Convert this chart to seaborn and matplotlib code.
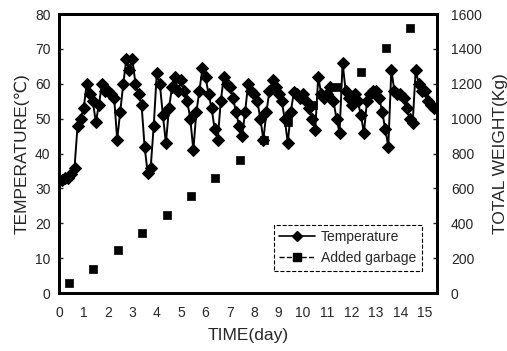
import matplotlib
matplotlib.use("Agg")
import matplotlib.pyplot as plt
from matplotlib.lines import Line2D
import seaborn as sns
import pandas as pd

# Temperature readings, every 3 hours (8 per day)
temperature = [
    32, 32.5, 33, 33, 34, 36, 48, 50,          # day 0
    53, 60, 57, 55, 49, 54, 60, 58,            # day 1
    58, 57, 56, 44, 52, 60, 67, 64,            # day 2
    67, 60, 57, 54, 42, 34.5, 36, 48,          # day 3
    63, 60, 51, 43, 53, 59, 62, 58,            # day 4
    61, 58, 55, 50, 41, 52, 58, 64.5,          # day 5
    62, 57, 53, 47, 44, 55, 62, 60,            # day 6
    59, 56, 52, 48, 45, 52, 60, 58,            # day 7
    57, 55, 50, 44, 52, 58, 61, 59,            # day 8
    57, 55, 50, 43, 52, 57.6, 57, 56,          # day 9
    57, 55, 53, 50, 46.7, 62, 57, 56,          # day 10
    57, 59, 55, 50, 46, 66, 58, 56,            # day 11
    54, 57, 55, 51, 46, 55, 57, 58,            # day 12
    58, 56, 52, 47, 42, 64, 58, 57,            # day 13
    57, 56, 53, 50, 48.7, 64, 60, 58,          # day 14
    58, 55, 54, 53,                            # day 15
]
sample_interval_day = 0.125
temp_time = [i * sample_interval_day for i in range(len(temperature))]

garbage_day = [0.4, 1.4, 2.4, 3.4, 4.4, 5.4, 6.4, 7.4, 8.4, 9.4, 10.4, 11.4, 12.4, 13.4, 14.4]
garbage_total = [60, 140, 245, 345, 450, 555, 660, 765, 875, 980, 1080, 1180, 1270, 1405, 1520]

x_ticks = list(range(0, 16))
left_ticks = list(range(0, 81, 10))
right_ticks = list(range(0, 1601, 200))

df_t = pd.DataFrame({"day": temp_time, "temp": temperature})
df_g = pd.DataFrame({"day": garbage_day, "weight": garbage_total})

sns.set_style("white")
plt.rcParams['font.family'] = ['Liberation Sans', 'DejaVu Sans']

fig = plt.figure(figsize=(5.07, 3.51), dpi=100)
ax = fig.add_axes([0.116, 0.165, 0.746, 0.795])
ax2 = ax.twinx()

sns.lineplot(data=df_t, x="day", y="temp", ax=ax, color="black", lw=1.4,
             marker="D", markersize=6, markeredgecolor="black", markerfacecolor="black",
             legend=False)
sns.scatterplot(data=df_g, x="day", y="weight", ax=ax2, color="black", marker="s",
                s=40, edgecolor="black", legend=False)

ax.set_xlim(-0.02, 15.5)
ax.set_ylim(0, 80)
ax2.set_ylim(0, 1600)
ax.set_xticks(x_ticks)
ax.set_yticks(left_ticks)
ax2.set_yticks(right_ticks)

ax.set_xlabel("TIME(day)", fontsize=12.5, labelpad=6)
ax.set_ylabel("TEMPERATURE(\u2103)", fontsize=12.5, labelpad=4)
ax2.set_ylabel("TOTAL WEIGHT(Kg)", fontsize=12.5, labelpad=8)

for a in (ax, ax2):
    a.tick_params(axis="both", labelsize=10, direction="in", length=3, width=1, pad=6)
    for s in a.spines.values():
        s.set_linewidth(2)
        s.set_color("black")
ax2.tick_params(axis="y", pad=10)
ax.tick_params(axis="x", length=0, pad=9)

handles = [
    Line2D([0], [0], color="black", lw=1.2, marker="D", markersize=5),
    Line2D([0], [0], color="black", lw=1.0, ls="--", marker="s", markersize=6),
]
leg = ax2.legend(handles, ["Temperature", "Added garbage"], loc="lower left",
                 bbox_to_anchor=(0.55, 0.055), fontsize=10, fancybox=False,
                 frameon=True, borderpad=0.4, handlelength=2.6, labelspacing=0.5,
                 handletextpad=0.4)
fr = leg.get_frame()
fr.set_edgecolor("black")
fr.set_linestyle("--")
fr.set_linewidth(0.8)
fr.set_alpha(1)

fig.savefig("out.png", dpi=100)
